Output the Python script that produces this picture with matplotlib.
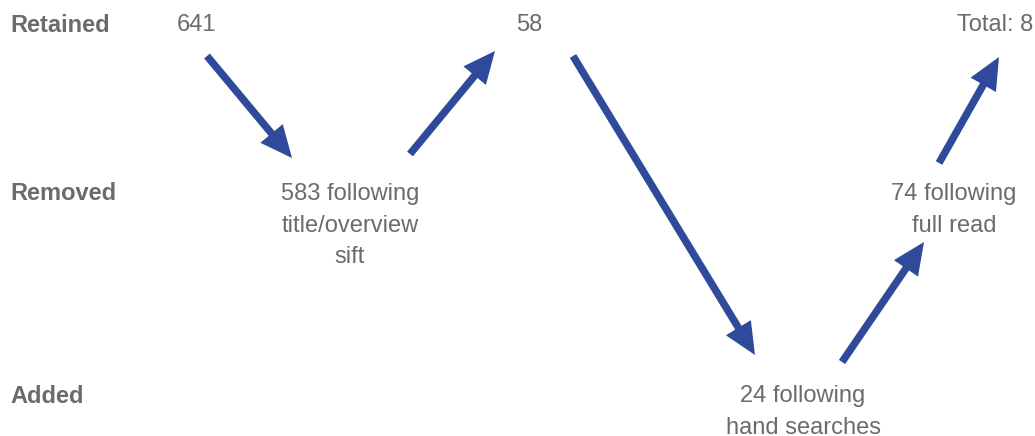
import matplotlib
matplotlib.use("Agg")
import matplotlib.pyplot as plt
from matplotlib.patches import FancyArrowPatch

# Row labels and their vertical positions (pixel-like data units, y downward)
row_labels = ["Retained", "Removed", "Added"]
row_baselines = [31.5, 200.0, 402.5]

# Stage texts: (text, x-centre, row index)
stage_texts = ["641",
               "583 following\ntitle/overview\nsift",
               "58",
               "24 following\nhand searches",
               "74 following\nfull read",
               "Total: 8"]
stage_x = [196, 350, 529, 803, 954, 995]
stage_row = [0, 1, 0, 2, 1, 0]

# Arrows: tail and tip positions
arrow_start = [(207, 56), (410, 154), (573, 56), (842, 362), (939, 163)]
arrow_end = [(292, 158), (495, 51), (755, 355), (924, 242), (999, 57)]

TEXT_COLOR = "#6b6b6b"
ARROW_COLOR = "#2f4a9b"
FONT = ["Liberation Sans", "DejaVu Sans"]
FS = 17
ASCENT = 17.3  # pixel distance baseline -> top of text box

fig = plt.figure(figsize=(10.35, 4.36), dpi=100)
ax = fig.add_axes([0, 0, 1, 1])
ax.set_xlim(0, 1035)
ax.set_ylim(436, 0)
ax.axis("off")

for lab, yb in zip(row_labels, row_baselines):
    ax.text(10, yb, lab, ha="left", va="baseline", fontsize=FS,
            fontweight="bold", color=TEXT_COLOR, family=FONT)

for txt, x, r in zip(stage_texts, stage_x, stage_row):
    ax.text(x, row_baselines[r] - ASCENT, txt, ha="center", va="top",
            fontsize=FS, color=TEXT_COLOR, family=FONT,
            multialignment="center", linespacing=1.58)

for s, e in zip(arrow_start, arrow_end):
    arr = FancyArrowPatch(s, e, arrowstyle="simple,head_length=1.15,head_width=1.05,tail_width=0.27",
                          mutation_scale=20, color=ARROW_COLOR, lw=0,
                          shrinkA=0, shrinkB=0)
    ax.add_patch(arr)

fig.savefig("out.png", dpi=100)
